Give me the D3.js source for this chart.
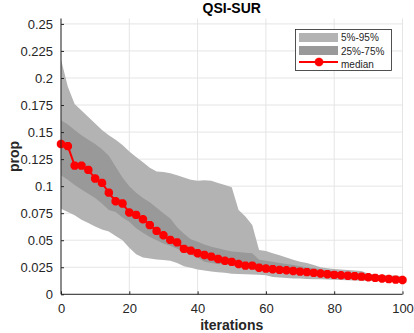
<!DOCTYPE html>
<html>
<head>
<meta charset="utf-8">
<script src="https://cdn.jsdelivr.net/npm/d3@7"></script>
<style>
	body { margin: 0; background: #fff; }
	svg { display: block; font-family: "Liberation Sans", Arial, sans-serif; }
</style>
</head>
<body>
<svg id="chart" width="414" height="333"></svg>
<script>
// iterations (every 2nd iteration is sampled)
var iters = d3.range(0, 101, 2);

var median = [0.139, 0.137, 0.119, 0.119, 0.115, 0.107, 0.103, 0.094, 0.086, 0.084,
	0.0756, 0.0734, 0.0694, 0.064, 0.0586, 0.0546, 0.0503, 0.048, 0.042, 0.0404,
	0.038, 0.0364, 0.0348, 0.0327, 0.031, 0.030, 0.028, 0.0265, 0.0265, 0.0246,
	0.0238, 0.0232, 0.0226, 0.0222, 0.0216, 0.021, 0.0205, 0.0198, 0.0192, 0.0186,
	0.018, 0.0176, 0.0172, 0.0168, 0.0163, 0.0158, 0.0152, 0.0146, 0.0141, 0.0136, 0.0132];

var q95 = [0.217, 0.192, 0.176, 0.170, 0.164, 0.158, 0.152, 0.147, 0.143, 0.138,
	0.132, 0.127, 0.122, 0.117, 0.1135, 0.113, 0.112, 0.110, 0.108, 0.106,
	0.105, 0.1055, 0.105, 0.103, 0.101, 0.099, 0.078, 0.072, 0.064, 0.041,
	0.040, 0.038, 0.036, 0.034, 0.032, 0.030, 0.029, 0.027, 0.025, 0.024,
	0.0235, 0.023, 0.0225, 0.022, 0.0215, 0.019, 0.018, 0.0178, 0.0175, 0.0172, 0.017];

var q05 = [0.079, 0.076, 0.073, 0.069, 0.066, 0.0626, 0.060, 0.058, 0.054, 0.050,
	0.043, 0.037, 0.034, 0.033, 0.0322, 0.0316, 0.031, 0.029, 0.026, 0.0245,
	0.023, 0.022, 0.021, 0.0205, 0.020, 0.019, 0.0188, 0.0185, 0.0182, 0.018,
	0.0175, 0.016, 0.0155, 0.015, 0.0147, 0.0145, 0.0142, 0.014, 0.0138, 0.0136,
	0.0134, 0.0132, 0.013, 0.0128, 0.0126, 0.0124, 0.0122, 0.012, 0.0118, 0.0116, 0.0115];

var q75 = [0.161, 0.157, 0.152, 0.147, 0.143, 0.139, 0.134, 0.128, 0.118, 0.108,
	0.100, 0.094, 0.089, 0.085, 0.080, 0.075, 0.070, 0.062, 0.056, 0.051,
	0.0487, 0.046, 0.044, 0.0425, 0.041, 0.0395, 0.039, 0.0385, 0.038, 0.032,
	0.031, 0.030, 0.029, 0.028, 0.027, 0.026, 0.025, 0.024, 0.023, 0.022,
	0.021, 0.0205, 0.020, 0.0195, 0.019, 0.0185, 0.018, 0.0172, 0.0165, 0.016, 0.0155];

var q25 = [0.110, 0.106, 0.101, 0.097, 0.093, 0.089, 0.084, 0.078, 0.076, 0.071,
	0.067, 0.061, 0.057, 0.053, 0.050, 0.047, 0.045, 0.042, 0.039, 0.037,
	0.034, 0.030, 0.029, 0.028, 0.0275, 0.027, 0.026, 0.025, 0.024, 0.023,
	0.0222, 0.0215, 0.021, 0.0205, 0.020, 0.0195, 0.019, 0.0183, 0.0178, 0.0172,
	0.0166, 0.0162, 0.0158, 0.0154, 0.015, 0.0146, 0.0142, 0.0138, 0.0134, 0.013, 0.0126];

var xTicks = [0, 20, 40, 60, 80, 100];
var yTicks = [0, 0.025, 0.05, 0.075, 0.1, 0.125, 0.15, 0.175, 0.2, 0.225, 0.25];
var legendLabels = ["5%-95%", "25%-75%", "median"];

var svg = d3.select("#chart");
var pLeft = 61, pRight = 402.5, pTop = 18.5, pBottom = 294.3;

var x = d3.scaleLinear().domain([0, 100]).range([pLeft, pRight]);
var y = d3.scaleLinear().domain([0, 0.255]).range([pBottom, pTop]);

var lightGrey = "#b3b3b3", darkGrey = "#999999", axisColor = "#262626";

// grid
var grid = svg.append("g").attr("stroke", "#e5e5e5").attr("stroke-width", 1);
xTicks.forEach(function(t) {
	grid.append("line").attr("x1", x(t)).attr("x2", x(t)).attr("y1", pTop).attr("y2", pBottom);
});
yTicks.forEach(function(t) {
	grid.append("line").attr("x1", pLeft).attr("x2", pRight).attr("y1", y(t)).attr("y2", y(t));
});

var rows = iters.map(function(it, i) {
	return {it: it, med: median[i], lo5: q05[i], hi95: q95[i], lo25: q25[i], hi75: q75[i]};
});

var outer = d3.area()
	.x(function(d) { return x(d.it); })
	.y0(function(d) { return y(d.lo5); })
	.y1(function(d) { return y(d.hi95); });
var inner = d3.area()
	.x(function(d) { return x(d.it); })
	.y0(function(d) { return y(d.lo25); })
	.y1(function(d) { return y(d.hi75); });

svg.append("path").datum(rows).attr("d", outer).attr("fill", lightGrey);
svg.append("path").datum(rows).attr("d", inner).attr("fill", darkGrey);

// median line with star markers
var line = d3.line()
	.x(function(d) { return x(d.it); })
	.y(function(d) { return y(d.med); });
svg.append("path").datum(rows).attr("d", line)
	.attr("fill", "none").attr("stroke", "red").attr("stroke-width", 2);

function star(cx, cy, r) {
	var d = r * 0.72;
	return "M" + (cx - r) + "," + cy + "H" + (cx + r) +
		"M" + cx + "," + (cy - r) + "V" + (cy + r) +
		"M" + (cx - d) + "," + (cy - d) + "L" + (cx + d) + "," + (cy + d) +
		"M" + (cx - d) + "," + (cy + d) + "L" + (cx + d) + "," + (cy - d);
}
svg.append("g").selectAll("path.mk")
	.data(rows)
	.enter().append("path")
	.attr("class", "mk")
	.attr("d", function(d) { return star(x(d.it), y(d.med), 4.2); })
	.attr("stroke", "red").attr("stroke-width", 3).attr("fill", "none");

// axes
var xAxis = d3.axisBottom(x).tickValues(xTicks).tickSize(-3).tickPadding(8)
	.tickFormat(d3.format("d"));
var yAxis = d3.axisLeft(y).tickValues(yTicks).tickSize(-3).tickPadding(8)
	.tickFormat(function(d) { return String(+d.toFixed(3)); });

var gx = svg.append("g").attr("transform", "translate(0," + pBottom + ")").call(xAxis);
var gy = svg.append("g").attr("transform", "translate(" + pLeft + ",0)").call(yAxis);
[gx, gy].forEach(function(g) {
	g.select(".domain").remove();
	g.selectAll("line").attr("stroke", axisColor);
	g.selectAll("text").attr("fill", axisColor).style("font-size", "13px")
		.style("font-family", "'Liberation Sans', Arial, sans-serif");
});
gx.selectAll("text").attr("dy", "0.85em");
svg.append("line").attr("x1", pLeft).attr("x2", pLeft).attr("y1", pTop).attr("y2", pBottom)
	.attr("stroke", axisColor);
svg.append("line").attr("x1", pLeft).attr("x2", pRight).attr("y1", pBottom).attr("y2", pBottom)
	.attr("stroke", axisColor);

// labels
svg.append("text").attr("x", (pLeft + pRight) / 2).attr("y", 13)
	.attr("text-anchor", "middle").style("font-size", "14px").style("font-weight", "bold")
	.attr("fill", "#000").text("QSI-SUR");
svg.append("text").attr("x", (pLeft + pRight) / 2).attr("y", 330)
	.attr("text-anchor", "middle").style("font-size", "14px").style("font-weight", "bold")
	.attr("fill", axisColor).text("iterations");
svg.append("text").attr("transform", "translate(19," + ((pTop + pBottom) / 2) + ") rotate(-90)")
	.attr("text-anchor", "middle").style("font-size", "14px").style("font-weight", "bold")
	.attr("fill", axisColor).text("prop");

// legend
var lg = svg.append("g");
lg.append("rect").attr("x", 295.5).attr("y", 29.5).attr("width", 96).attr("height", 41)
	.attr("fill", "#fff").attr("stroke", axisColor).attr("stroke-width", 0.8);
lg.append("rect").attr("x", 299).attr("y", 33).attr("width", 39).attr("height", 9).attr("fill", lightGrey);
lg.append("rect").attr("x", 299).attr("y", 46).attr("width", 39).attr("height", 9).attr("fill", darkGrey);
lg.append("line").attr("x1", 299).attr("x2", 338).attr("y1", 62).attr("y2", 62)
	.attr("stroke", "red").attr("stroke-width", 2);
lg.append("path").attr("d", star(319, 62, 4.2)).attr("stroke", "red").attr("stroke-width", 3);
lg.selectAll("text.lab")
	.data(legendLabels)
	.enter().append("text")
	.attr("class", "lab")
	.attr("x", 341)
	.attr("y", function(d, i) { return 41 + i * 13.5; })
	.style("font-size", "10px").attr("fill", axisColor)
	.text(function(d) { return d; });
</script>
</body>
</html>
